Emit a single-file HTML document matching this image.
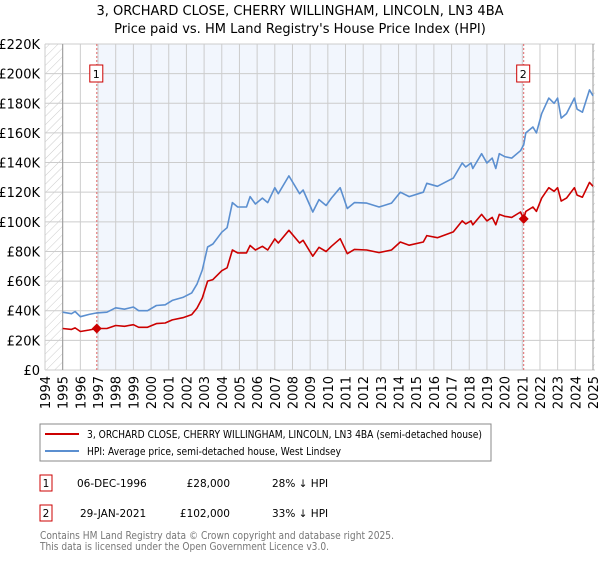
<!DOCTYPE html>
<html><head><meta charset="utf-8"><style>
body{margin:0;background:#fff;font-family:"Liberation Sans","DejaVu Sans",sans-serif;}
svg text{font-family:"DejaVu Sans","Liberation Sans",sans-serif;}
</style></head><body>
<svg id="chart" width="600" height="560" viewBox="0 0 600 560">
<defs><pattern id="hatch" width="6" height="6" patternUnits="userSpaceOnUse" patternTransform="rotate(45)"><line x1="0" y1="0" x2="0" y2="6" stroke="#ccc" stroke-width="1"/></pattern></defs>
<text x="300" y="15" text-anchor="middle" font-size="13">3, ORCHARD CLOSE, CHERRY WILLINGHAM, LINCOLN, LN3 4BA</text>
<text x="300" y="33" text-anchor="middle" font-size="13">Price paid vs. HM Land Registry's House Price Index (HPI)</text>
<g id="plot"></g>
<rect x="40" y="424" width="451" height="37" fill="#fff" stroke="#888"/>
<line x1="45" y1="434" x2="79" y2="434" stroke="#cc0000" stroke-width="2"/>
<text x="87" y="438" font-size="10.5" textLength="395" lengthAdjust="spacingAndGlyphs">3, ORCHARD CLOSE, CHERRY WILLINGHAM, LINCOLN, LN3 4BA (semi-detached house)</text>
<line x1="45" y1="451" x2="79" y2="451" stroke="#5b8fd0" stroke-width="2"/>
<text x="87" y="455" font-size="10.5" textLength="254" lengthAdjust="spacingAndGlyphs">HPI: Average price, semi-detached house, West Lindsey</text>
<g>
<rect x="40" y="475" width="12" height="16" fill="#fff" stroke="#cc0000"/><text x="46" y="487" font-size="10.5" text-anchor="middle">1</text>
<text x="77" y="487" font-size="10.5">06-DEC-1996</text><text x="230" y="487" font-size="10.5" text-anchor="end">£28,000</text><text x="272" y="487" font-size="10.5">28% ↓ HPI</text></g>
<g>
<rect x="40" y="505" width="12" height="16" fill="#fff" stroke="#cc0000"/><text x="46" y="517" font-size="10.5" text-anchor="middle">2</text>
<text x="80" y="517" font-size="10.5">29-JAN-2021</text><text x="230" y="517" font-size="10.5" text-anchor="end">£102,000</text><text x="272" y="517" font-size="10.5">33% ↓ HPI</text></g>
<text x="40" y="539" font-size="10.5" fill="#777" textLength="354" lengthAdjust="spacingAndGlyphs">Contains HM Land Registry data © Crown copyright and database right 2025.</text>
<text x="40" y="550" font-size="10.5" fill="#777" textLength="289" lengthAdjust="spacingAndGlyphs">This data is licensed under the Open Government Licence v3.0.</text>
</svg>
<script>
const hpiYears=[1995.0,1995.5,1995.7,1996.0,1996.5,1996.93,1997.5,1998.0,1998.5,1999.0,1999.3,1999.8,2000.3,2000.8,2001.2,2001.8,2002.3,2002.6,2002.9,2003.2,2003.5,2004.0,2004.3,2004.6,2004.9,2005.4,2005.6,2005.9,2006.3,2006.6,2007.0,2007.2,2007.8,2008.4,2008.6,2009.15,2009.5,2009.9,2010.2,2010.7,2011.1,2011.5,2012.2,2012.9,2013.6,2014.1,2014.6,2015.4,2015.6,2016.2,2017.1,2017.6,2017.8,2018.1,2018.2,2018.7,2019.0,2019.3,2019.5,2019.7,2020.0,2020.4,2020.9,2021.08,2021.2,2021.6,2021.8,2022.1,2022.5,2022.8,2023.0,2023.2,2023.5,2023.95,2024.1,2024.4,2024.8,2025.0];
const hpiValues=[39,38,39.5,36,37.5,38.5,39,42,41,42.5,40,40,43.5,44,47,49,52,58,67.5,83,85,93,96,113,110,110,117,112,116,113,123,119,131,119,121.5,106.6,115,111,116,123,109,113,112.6,110,112.6,120,117,120,126,124,129.5,139.7,137,139.7,136,146,139.7,143,136,146,144,143,148,152,160,164,160,173,183.5,180,183.5,170,173,183.5,176,174,189,185];
const priceValues=[28,27.4,28.4,26,27,28,28,30,29.5,30.6,28.8,28.8,31.3,31.7,33.8,35.3,37.4,41.8,48.6,60,61,67,69,81,79,79,84,81,83.5,81,88.5,85.7,94.3,85.7,87.5,76.8,82.8,80,83.5,88.6,78.5,81.4,81,79.2,81,86.4,84.2,86.4,90.7,89.3,93.2,100.6,98.6,100.6,98,105,100.6,103,98,105,103.7,103,106.6,102,107,110,107,116,123,120.6,123,114,116,123,118,116.6,126.6,124];
const saleYears=[1996.93,2021.08];
const saleValues=[28,102];
const saleLabels=["1","2"];
const yTicks=[0,20,40,60,80,100,120,140,160,180,200,220];
const xTicks=[1994,1995,1996,1997,1998,1999,2000,2001,2002,2003,2004,2005,2006,2007,2008,2009,2010,2011,2012,2013,2014,2015,2016,2017,2018,2019,2020,2021,2022,2023,2024,2025];
const X0=45,X1=593,Y0=370,Y1=44;
const xs=y=>X0+(y-1994)/(2025-1994)*(X1-X0);
const ys=v=>Y0-v/220*(Y0-Y1);
const NS="http://www.w3.org/2000/svg";
const g=document.getElementById('plot');
function mk(t,a,p){const e=document.createElementNS(NS,t);for(const k in a)e.setAttribute(k,a[k]);(p||g).appendChild(e);return e;}
let e;
e=mk('rect',{x:X0,y:Y1,width:xs(1995)-X0,height:Y0-Y1,fill:'url(#hatch)'});


e=mk('rect',{x:xs(2025),y:Y1,width:2,height:Y0-Y1,fill:'url(#hatch)'});


e=mk('rect',{x:xs(saleYears[0]),y:Y1,width:xs(saleYears[1])-xs(saleYears[0]),height:Y0-Y1,fill:'#f2f6fd'});


yTicks.forEach(v=>{
 e=mk('line',{x1:X0,x2:X1+2,y1:ys(v),y2:ys(v),stroke:'#ccc','stroke-width':1});
 
 
 e=mk('text',{x:40,y:ys(v)+5,'text-anchor':'end','font-size':'13'});e.textContent=v==0?'£0':'£'+v+'K';
 
 
});
xTicks.forEach(yr=>{
 e=mk('line',{x1:xs(yr),x2:xs(yr),y1:Y1,y2:Y0,stroke:'#ccc','stroke-width':1});
 
 
 e=mk('text',{x:0,y:0,'font-size':'13','text-anchor':'end',transform:`translate(${xs(yr)+5},376) rotate(-90)`});e.textContent=yr;
 
 
});
e=mk('line',{x1:xs(1995),x2:xs(1995),y1:Y1,y2:Y0,stroke:'#999'});


e=mk('line',{x1:xs(2025),x2:xs(2025),y1:Y1,y2:Y0,stroke:'#999'});


saleYears.forEach((yr,i)=>{
 e=mk('line',{x1:xs(yr),x2:xs(yr),y1:Y1,y2:Y0,stroke:'#e06666','stroke-dasharray':'2,2'});
 
 
 e=mk('rect',{x:xs(yr)-7,y:65,width:13,height:17,fill:'#fff',stroke:'#cc0000'});
 
 
 e=mk('text',{x:xs(yr)-0.5,y:78,'text-anchor':'middle','font-size':'11'});e.textContent=saleLabels[i];
 
 
});
function line(vals,col,name){
 const d=hpiYears.map((yr,i)=>(i?'L':'M')+xs(yr).toFixed(1)+','+ys(vals[i]).toFixed(1)).join('');
 const p=mk('path',{d:d,fill:'none',stroke:col,'stroke-width':1.6,'stroke-linejoin':'round'});
 
 
}
line(hpiValues,'#5b8fd0','hpi-line');
line(priceValues,'#cc0000','price-line');
saleYears.forEach((yr,i)=>{
 e=mk('path',{d:`M${xs(yr)},${ys(saleValues[i])-5}l5,5l-5,5l-5,-5z`,fill:'#cc0000'});
 
 
});
</script>
</body></html>
